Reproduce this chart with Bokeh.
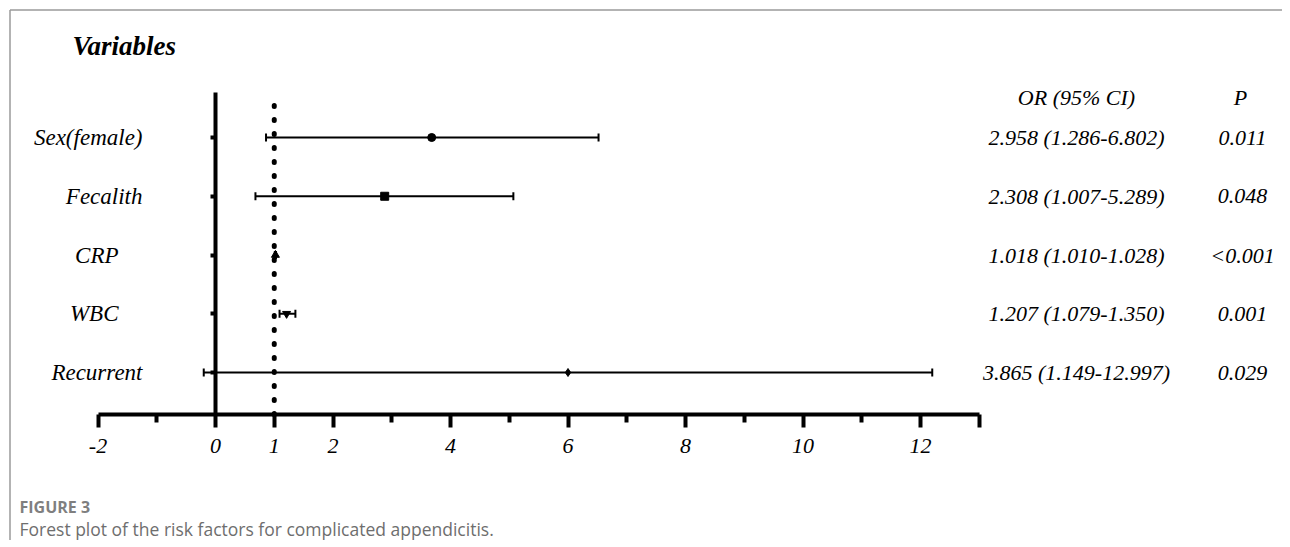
from bokeh.plotting import figure
from bokeh.models import (ColumnDataSource, Range1d, LinearAxis, FixedTicker,
                          Label)
from bokeh.core.properties import value
from bokeh.embed import file_html
from bokeh.resources import INLINE

# ---------------- data ----------------
variables = ["Sex(female)", "Fecalith", "CRP", "WBC", "Recurrent"]
or_text = ["2.958 (1.286-6.802)", "2.308 (1.007-5.289)", "1.018 (1.010-1.028)",
           "1.207 (1.079-1.350)", "3.865 (1.149-12.997)"]
p_text = ["0.011", "0.048", "<0.001", "0.001", "0.029"]
# positions of the marks as drawn in the figure
point_est = [3.68, 2.88, 1.02, 1.21, 6.00]
ci_low = [0.86, 0.68, 1.01, 1.09, -0.20]
ci_high = [6.52, 5.07, 1.03, 1.36, 12.20]
marker_shapes = ["circle", "square", "triangle", "inverted_triangle", "diamond"]
row_pos = [5, 4, 3, 2, 1]
x_tick_values = [-2, 0, 1, 2, 4, 6, 8, 10, 12, 13]
x_minor_ticks = [-1, 3, 5, 7, 9, 11]
x_tick_labels = {-2: "-2", 13: ""}
ref_value = 1

# ---------------- layout helpers (pixel -> data) ----------------
W, H = 1282, 540
X0_PX, UNIT = 215.0, 58.75      # image px of x=0, px per unit
ROW1_PX = 372.0                 # image px of row 1


def xd(px):
    return (px - X0_PX) / UNIT


def yd(py):
    return 1 - (py - ROW1_PX) / UNIT


FONT = value("Liberation Serif")

p = figure(width=W, height=H, output_backend="svg", toolbar_location=None,
           x_range=Range1d(xd(0), xd(W)), y_range=Range1d(yd(H), yd(0)),
           x_axis_type=None, y_axis_type=None, min_border=0,
           outline_line_color=None, background_fill_color="white",
           border_fill_color="white")
p.grid.visible = False

axis_y_loc = yd(414)
top_y = yd(92)

# x axis drawn at a fixed location
xaxis = LinearAxis(fixed_location=axis_y_loc, bounds=(-2, 13),
                   ticker=FixedTicker(ticks=x_tick_values, minor_ticks=x_minor_ticks),
                   major_label_overrides=x_tick_labels)
xaxis.axis_line_width = 4
xaxis.axis_line_color = "black"
xaxis.major_tick_line_width = 4
xaxis.minor_tick_line_width = 4
xaxis.major_tick_out = 13
xaxis.major_tick_in = 0
xaxis.minor_tick_out = 8
xaxis.minor_tick_in = 0
xaxis.major_label_text_font = "Liberation Serif"
xaxis.major_label_text_font_style = "italic"
xaxis.major_label_text_font_size = "22px"
xaxis.major_label_text_color = "black"
xaxis.major_label_standoff = 11
p.add_layout(xaxis, "below")

# y axis (the vertical line at x = 0)
yaxis = LinearAxis(fixed_location=0, bounds=(axis_y_loc, top_y),
                   ticker=FixedTicker(ticks=row_pos, minor_ticks=[]),
                   major_label_overrides={r: "" for r in row_pos})
yaxis.axis_line_width = 4
yaxis.major_tick_line_width = 4
yaxis.major_tick_out = 5
yaxis.major_tick_in = 0
yaxis.minor_tick_line_color = None
p.add_layout(yaxis, "left")

# page border (top and left)
p.segment(x0=[xd(9.5), xd(9.5)], y0=[yd(9.5), yd(9.5)],
          x1=[xd(W), xd(9.5)], y1=[yd(9.5), yd(H)],
          line_color="#9a9a9a", line_width=1.5)

# dotted reference line at OR = 1
p.segment(x0=[ref_value], y0=[axis_y_loc], x1=[ref_value], y1=[top_y],
          line_color="black", line_width=5, line_dash="1 13", line_cap="round")

src = ColumnDataSource(dict(var=variables, y=row_pos, est=point_est, lo=ci_low,
                            hi=ci_high, marker=marker_shapes, ortxt=or_text,
                            ptxt=p_text))

# CI lines and caps
p.segment(x0="lo", y0="y", x1="hi", y1="y", source=src, line_color="black",
          line_width=2)
p.scatter(x="lo", y="y", source=src, marker="dash", angle=1.5708, size=8,
          line_width=2, line_color="black")
p.scatter(x="hi", y="y", source=src, marker="dash", angle=1.5708, size=8,
          line_width=2, line_color="black")
# point estimates
p.scatter(x="est", y="y", source=src, marker="marker", size=8,
          fill_color="black", line_color="black")

# row labels
label_right_px = [142, 142, 118, 118, 142]
src_lab = ColumnDataSource(dict(x=[xd(v) for v in label_right_px], y=row_pos,
                                t=variables))
p.text(x="x", y="y", text="t", source=src_lab, text_font=FONT,
       text_font_style="italic", text_font_size="23px", text_align="right",
       text_baseline="middle", text_color="black")

# OR and P columns
p.text(x=xd(1076), y="y", text="ortxt", source=src, text_font=FONT,
       text_font_style="italic", text_font_size="22px", text_align="center",
       text_baseline="middle", text_color="black")
p.text(x=xd(1242), y="y", text="ptxt", source=src, text_font=FONT,
       text_font_style="italic", text_font_size="22px", text_align="center",
       text_baseline="middle", text_color="black")

# headers
p.add_layout(Label(x=xd(72), y=yd(45), text="Variables", text_font="Liberation Serif",
                   text_font_style="bold italic", text_font_size="27px",
                   text_baseline="middle", text_color="black"))
p.add_layout(Label(x=xd(1076), y=yd(97), text="OR (95% CI)", text_font="Liberation Serif",
                   text_font_style="italic", text_font_size="22px", text_align="center",
                   text_baseline="middle", text_color="black"))
p.add_layout(Label(x=xd(1240), y=yd(97), text="P", text_font="Liberation Serif",
                   text_font_style="italic", text_font_size="22px", text_align="center",
                   text_baseline="middle", text_color="black"))

# caption
p.add_layout(Label(x=xd(19), y=yd(506), text="FIGURE 3", text_font="Open Sans",
                   text_font_style="bold", text_font_size="16px",
                   text_baseline="middle", text_color="#7f7f7f"))
p.add_layout(Label(x=xd(19), y=yd(528),
                   text="Forest plot of the risk factors for complicated appendicitis.",
                   text_font="Open Sans", text_font_size="17.5px",
                   text_baseline="middle", text_color="#6e6e6e"))

open("out.html", "w").write(file_html(p, INLINE))
